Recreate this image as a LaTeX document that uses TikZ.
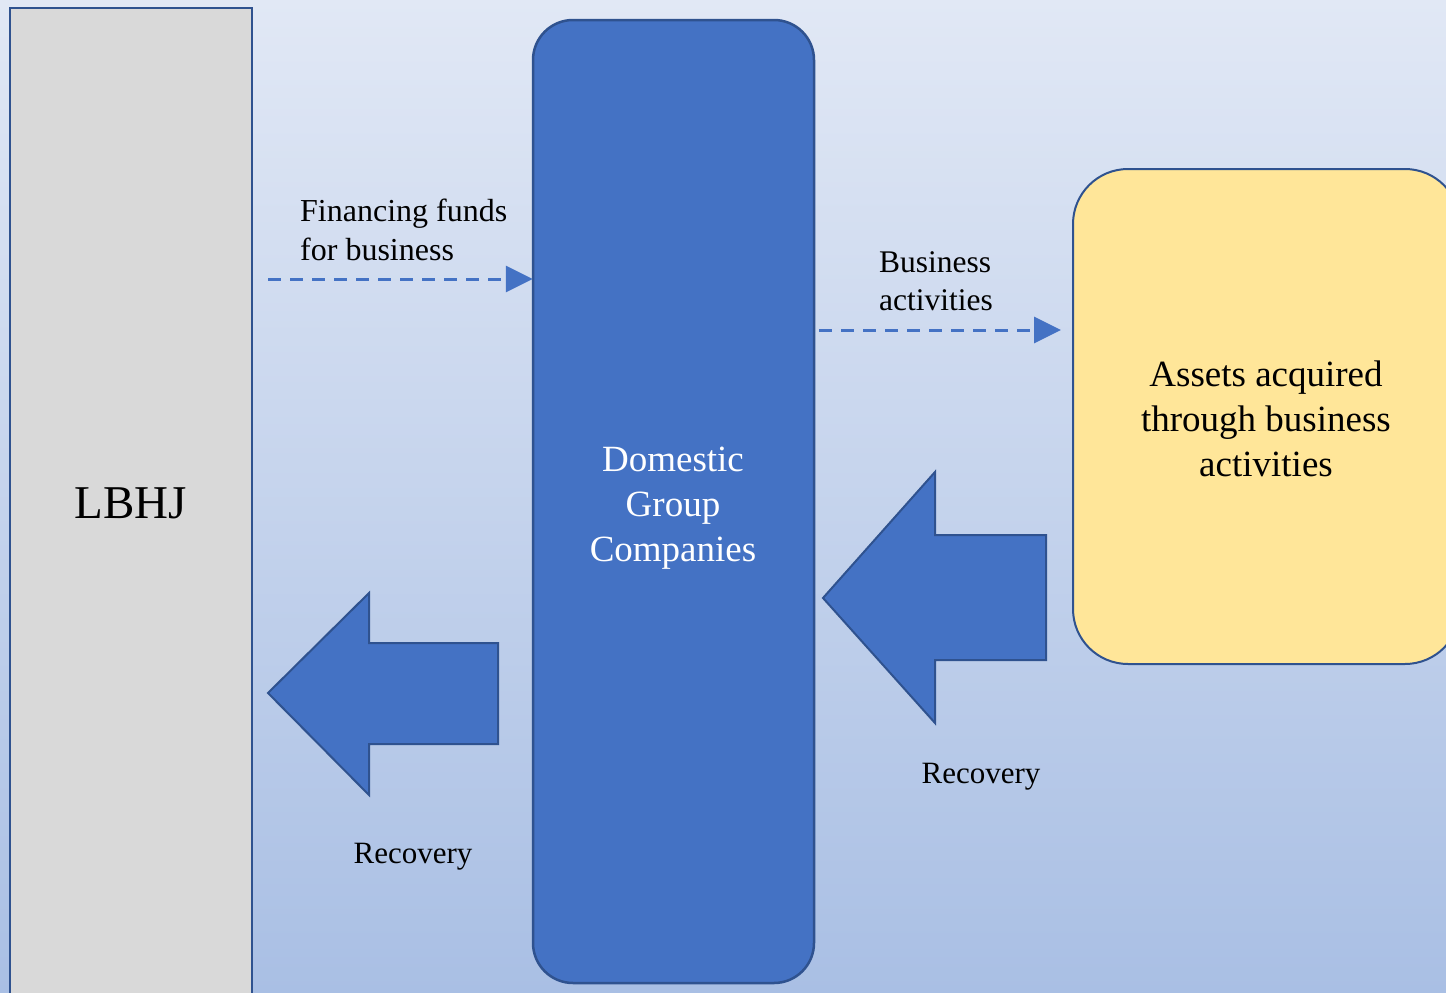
\documentclass[tikz,border=0pt]{standalone}
\usepackage{fontspec}
\setmainfont{Liberation Serif}
\usetikzlibrary{arrows.meta}
\definecolor{bgtop}{HTML}{E1E8F5}
\definecolor{bgbot}{HTML}{A9BFE4}
\definecolor{boxblue}{HTML}{4472C4}
\definecolor{edgeblue}{HTML}{2F528F}
\definecolor{lgray}{HTML}{D9D9D9}
\definecolor{lyellow}{HTML}{FFE699}
\tikzset{
  lbox/.style={draw=edgeblue, line width=2pt, fill=lgray},
  dombox/.style={draw=edgeblue, line width=2.5pt, fill=boxblue, rounded corners=40pt},
  assetbox/.style={draw=edgeblue, line width=2pt, fill=lyellow, rounded corners=55pt},
  bigarrow/.style={draw=edgeblue, line width=2pt, fill=boxblue, line join=miter},
  dasharrow/.style={draw=boxblue, line width=3pt, dash pattern=on 13pt off 9pt, -{Triangle[length=27pt,width=26pt]}},
  lbl/.style={inner sep=0pt, font=\fontsize{32}{39}\selectfont, align=left}
}
\begin{document}
\begin{tikzpicture}[x=1pt,y=-1pt]
\useasboundingbox (0,0) rectangle (1446,993);
\clip (0,0) rectangle (1446,993);
\shade[top color=bgtop, bottom color=bgbot] (0,0) rectangle (1446,993);

% LBHJ
\draw[lbox] (10,8) rectangle (252,1010);
\node[font=\fontsize{47}{56}\selectfont] (lbhj) at (131,503) {LBHJ};

% Domestic group companies
\draw[dombox] (533,20) rectangle (814,983);
\node[minimum width=281pt, minimum height=963pt, inner sep=0pt] (dom) at (673.5,501.5) {};
\node[text=white, align=center, font=\fontsize{37}{45}\selectfont] (domtxt) at (673,508) {Domestic\\Group\\Companies};

% Assets box
\draw[assetbox] (1073,169) rectangle (1460,664);
\node[minimum width=387pt, minimum height=495pt, inner sep=0pt] (assets) at (1266.5,416.5) {};
\node[align=center, font=\fontsize{37}{45}\selectfont] (assettxt) at (1266,419) {Assets acquired\\through business\\activities};

% dashed arrows
\coordinate (f0) at (268,279);
\draw[dasharrow] (f0) -- (dom.west |- f0);
\node[lbl, anchor=west] (fin) at (300,230) {Financing funds\\for business};

\coordinate (b0) at (819,330);
\coordinate (b1) at (1061,330);
\draw[dasharrow] (b0) -- (b1);
\node[lbl, anchor=west, font=\fontsize{31.5}{38}\selectfont] (bus) at (879,281) {Business\\activities};

% big arrows
\draw[bigarrow] (268,693) -- (369,593) -- (369,643) -- (498,643) -- (498,744) -- (369,744) -- (369,795) -- cycle;
\draw[bigarrow] (823,598) -- (935,472) -- (935,535) -- (1046,535) -- (1046,660) -- (935,660) -- (935,723) -- cycle;

\node[inner sep=0pt, font=\fontsize{31}{38}\selectfont] (rec1) at (413,857) {Recovery};
\node[inner sep=0pt, font=\fontsize{31}{38}\selectfont] (rec2) at (981,777) {Recovery};
\end{tikzpicture}
\end{document}
